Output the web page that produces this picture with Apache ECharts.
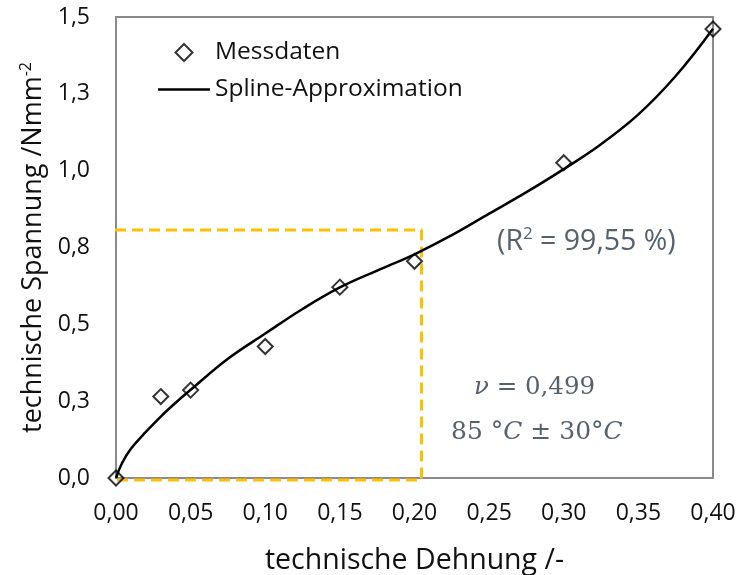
<!DOCTYPE html>
<html>
<head>
<meta charset="utf-8">
<script src="https://cdn.jsdelivr.net/npm/echarts@6/dist/echarts.min.js"></script>
<style>
  html, body { margin: 0; padding: 0; background: #fff; }
  #chart { width: 739px; height: 575px; }
</style>
</head>
<body>
<div id="chart"></div>
<script>
// Measured stress-strain points
const strainMeasured = [0, 0.03, 0.05, 0.10, 0.15, 0.20, 0.30, 0.40];
const stressMeasured = [0, 0.265, 0.286, 0.428, 0.621, 0.705, 1.026, 1.461];

// Spline approximation through the measurements
const splineStrain = [0, 0.004, 0.01, 0.02, 0.03, 0.04, 0.05, 0.075, 0.10, 0.125, 0.15, 0.175, 0.20, 0.225, 0.25, 0.275, 0.30, 0.325, 0.35, 0.375, 0.40];
const splineStress = [0, 0.048, 0.095, 0.150, 0.200, 0.245, 0.287, 0.388, 0.470, 0.550, 0.620, 0.675, 0.728, 0.790, 0.860, 0.930, 1.005, 1.086, 1.183, 1.308, 1.462];

// Highlighted low-strain region (dashed frame)
const boxStrain = [-0.004, 0.2047];
const boxStress = [-0.0065, 0.807];

// Axis ranges and tick steps
const xRange = [0, 0.4, 0.05];
const yRange = [0, 1.5, 0.25];

const seriesNames = ['Messdaten', 'Spline-Approximation'];

const pairs = (xs, ys) => xs.map((x, i) => [x, ys[i]]);
const boxPath = [
  [boxStrain[0], boxStress[0]],
  [boxStrain[0], boxStress[1]],
  [boxStrain[1], boxStress[1]],
  [boxStrain[1], boxStress[0]],
  [boxStrain[0], boxStress[0]]
];

const FONT = '"Open Sans", "Noto Sans", sans-serif';
const MATH = '"DejaVu Serif", "Liberation Serif", serif';
const NOTE = '#56616b';
const INK = '#111111';

const chart = echarts.init(document.getElementById('chart'), null, { renderer: 'canvas' });

chart.setOption({
  animation: false,
  backgroundColor: '#ffffff',
  grid: {
    left: 116, right: 26, top: 17, bottom: 97,
    show: true, borderColor: '#8a8a8a', borderWidth: 2,
    containLabel: false,
    outerBoundsMode: 'none'
  },
  legend: {
    data: [
      { name: seriesNames[0], icon: 'path://M7.5,0L15,7.5L7.5,15L0,7.5Z' },
      { name: seriesNames[1], icon: 'path://M0,0L52,0L52,2.5L0,2.5Z' }
    ],
    orient: 'vertical',
    left: 153, top: 35,
    itemWidth: 52, itemHeight: 17, itemGap: 12,
    symbolKeepAspect: true,
    textStyle: { fontFamily: FONT, fontSize: 24.5, color: INK }
  },
  xAxis: {
    type: 'value',
    min: xRange[0], max: xRange[1], interval: xRange[2],
    name: 'technische Dehnung /-',
    nameLocation: 'middle', nameGap: 68,
    nameTextStyle: { fontFamily: FONT, fontSize: 28.5, color: INK },
    axisLine: { show: false },
    axisTick: { show: false },
    splitLine: { show: false },
    axisLabel: {
      fontFamily: FONT, fontSize: 23, color: INK, margin: 24,
      formatter: v => v.toFixed(2).replace('.', ',')
    }
  },
  yAxis: {
    type: 'value',
    min: yRange[0], max: yRange[1], interval: yRange[2],
    name: 'technische Spannung /Nmm{sup|-2}',
    nameLocation: 'middle', nameGap: 66,
    nameTextStyle: {
      fontFamily: FONT, fontSize: 27, color: INK,
      rich: { sup: { fontFamily: FONT, fontSize: 16, color: INK, verticalAlign: 'top', padding: [0, 0, 14, 0] } }
    },
    axisLine: { show: false },
    axisTick: { show: false },
    splitLine: { show: false },
    axisLabel: {
      fontFamily: FONT, fontSize: 23, color: INK, margin: 26,
      formatter: v => v.toFixed(1).replace('.', ',')
    }
  },
  series: [
    {
      name: 'Bereich',
      type: 'line',
      data: boxPath,
      clip: false,
      symbol: 'none',
      silent: true,
      z: 1,
      lineStyle: { color: '#ffc000', width: 3, type: [11, 6] }
    },
    {
      name: seriesNames[1],
      type: 'line',
      data: pairs(splineStrain, splineStress),
      symbol: 'none',
      smooth: 0.4,
      z: 2,
      lineStyle: { color: '#000', width: 2.5 },
      itemStyle: { color: '#000' }
    },
    {
      name: seriesNames[0],
      type: 'scatter',
      data: pairs(strainMeasured, stressMeasured),
      symbol: 'diamond',
      symbolSize: 15,
      clip: false,
      z: 3,
      itemStyle: { color: 'rgba(255,255,255,0)', borderColor: '#000', borderWidth: 2 }
    }
  ],
  graphic: [
    {
      type: 'text', left: 497, top: 226,
      style: {
        text: '(R{sup|2} = 99,55 %)',
        fontFamily: FONT, fontSize: 28.5, fill: NOTE,
        rich: { sup: { fontFamily: FONT, fontSize: 17, fill: NOTE, verticalAlign: 'top', padding: [0, 0, 14, 0] } }
      }
    },
    {
      type: 'text', left: 474, top: 375,
      style: {
        text: '{i|ν} = 0,499',
        fontFamily: MATH, fontSize: 24.5, fill: NOTE,
        rich: { i: { fontFamily: MATH, fontStyle: 'italic', fontSize: 24.5, fill: NOTE } }
      }
    },
    {
      type: 'text', left: 451, top: 420,
      style: {
        text: '85 °{i|C} ± 30°{i|C}',
        fontFamily: MATH, fontSize: 25, fill: NOTE,
        rich: { i: { fontFamily: MATH, fontStyle: 'italic', fontSize: 25, fill: NOTE } }
      }
    }
  ]
});
</script>
</body>
</html>
